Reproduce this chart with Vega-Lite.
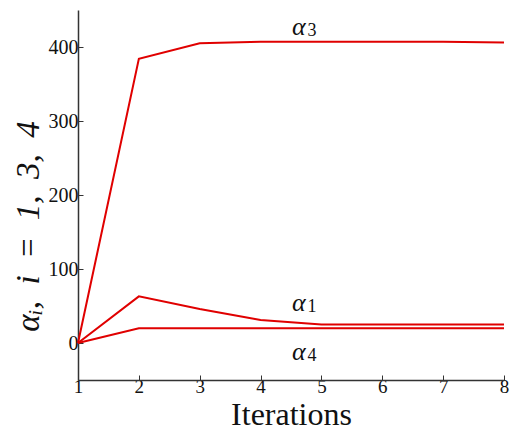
{
  "$schema": "https://vega.github.io/schema/vega-lite/v6.json",
  "autosize": "none",
  "padding": {"left": 78, "top": 10, "right": 7, "bottom": 57},
  "width": 426,
  "height": 370,
  "background": "white",
  "config": {"view": {"stroke": null}},
  "datasets": {
    "lines": [
      {"series": "a3", "iter": 1, "value": 0},
      {"series": "a3", "iter": 2, "value": 384},
      {"series": "a3", "iter": 3, "value": 405},
      {"series": "a3", "iter": 4, "value": 407},
      {"series": "a3", "iter": 5, "value": 407},
      {"series": "a3", "iter": 6, "value": 407},
      {"series": "a3", "iter": 7, "value": 407},
      {"series": "a3", "iter": 8, "value": 406},
      {"series": "a1", "iter": 1, "value": 0},
      {"series": "a1", "iter": 2, "value": 63},
      {"series": "a1", "iter": 3, "value": 46},
      {"series": "a1", "iter": 4, "value": 31},
      {"series": "a1", "iter": 5, "value": 25},
      {"series": "a1", "iter": 6, "value": 25},
      {"series": "a1", "iter": 7, "value": 25},
      {"series": "a1", "iter": 8, "value": 25},
      {"series": "a4", "iter": 1, "value": 0},
      {"series": "a4", "iter": 2, "value": 20},
      {"series": "a4", "iter": 3, "value": 20},
      {"series": "a4", "iter": 4, "value": 20},
      {"series": "a4", "iter": 5, "value": 20},
      {"series": "a4", "iter": 6, "value": 20},
      {"series": "a4", "iter": 7, "value": 20},
      {"series": "a4", "iter": 8, "value": 20}
    ],
    "labels": [
      {"sym": "α", "sub": "3", "iter": 4.63, "value": 427},
      {"sym": "α", "sub": "1", "iter": 4.63, "value": 54},
      {"sym": "α", "sub": "4", "iter": 4.63, "value": -12}
    ]
  },
  "layer": [
    {
      "data": {"name": "lines"},
      "mark": {"type": "line", "color": "#e00000", "strokeWidth": 2},
      "encoding": {
        "x": {
          "field": "iter", "type": "quantitative",
          "scale": {"domain": [1, 8], "nice": false, "zero": false},
          "axis": {
            "title": "Iterations", "values": [1, 2, 3, 4, 5, 6, 7, 8], "format": "d",
            "grid": false, "domainColor": "#333", "domainWidth": 1.5,
            "tickColor": "#333", "tickSize": -5, "tickWidth": 1,
            "labelFont": "Liberation Serif", "labelFontSize": 19, "labelFontWeight": "normal", "labelColor": "#111",
            "labelPadding": 2, "labelFlush": false, "labelOverlap": false,
            "titleFont": "Liberation Serif", "titleFontSize": 32, "titleFontWeight": "normal", "titleColor": "#111", "titlePadding": 3
          }
        },
        "y": {
          "field": "value", "type": "quantitative",
          "scale": {"domain": [-50, 450], "nice": false, "zero": false},
          "axis": {
            "title": "αᵢ,\u2002i\u2002=\u20021,\u20023,\u20024", "values": [0, 100, 200, 300, 400],
            "grid": false, "domainColor": "#333", "domainWidth": 1.5,
            "tickColor": "#333", "tickSize": -5, "tickWidth": 1,
            "labelFont": "Liberation Serif", "labelFontSize": 20, "labelFontWeight": "normal", "labelColor": "#111",
            "labelPadding": 5, "labelFlush": false,
            "titleFont": "Liberation Serif", "titleFontSize": 33, "titleFontWeight": "normal", "titleFontStyle": "italic", "titleColor": "#111", "titlePadding": 3,
            "titleY": 216
          }
        },
        "detail": {"field": "series"}
      }
    },
    {
      "data": {"name": "labels"},
      "mark": {"type": "text", "font": "Liberation Serif", "fontSize": 26, "fontStyle": "italic", "color": "#111"},
      "encoding": {
        "x": {"field": "iter", "type": "quantitative"},
        "y": {"field": "value", "type": "quantitative"},
        "text": {"field": "sym"}
      }
    },
    {
      "data": {"name": "labels"},
      "mark": {"type": "text", "font": "Liberation Serif", "fontSize": 18, "color": "#111", "dx": 13, "dy": 4},
      "encoding": {
        "x": {"field": "iter", "type": "quantitative"},
        "y": {"field": "value", "type": "quantitative"},
        "text": {"field": "sub"}
      }
    }
  ]
}
